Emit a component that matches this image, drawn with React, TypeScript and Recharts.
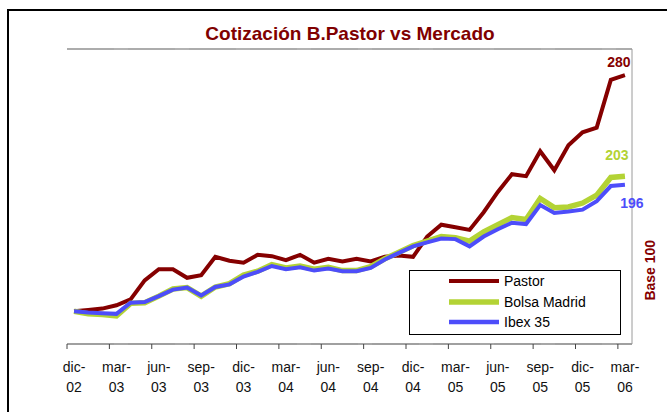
import React from "react";
import { LineChart, Line, XAxis, YAxis, CartesianGrid, ReferenceLine } from "recharts";

const months = [
  "dic-02","ene-03","feb-03","mar-03","abr-03","may-03","jun-03","jul-03","ago-03","sep-03","oct-03","nov-03",
  "dic-03","ene-04","feb-04","mar-04","abr-04","may-04","jun-04","jul-04","ago-04","sep-04","oct-04","nov-04",
  "dic-04","ene-05","feb-05","mar-05","abr-05","may-05","jun-05","jul-05","ago-05","sep-05","oct-05","nov-05",
  "dic-05","ene-06","feb-06","mar-06",
];

const pastor = [
  100, 101, 102, 104.5, 109, 123.5, 132, 132, 125.5, 127.5, 141.5, 138.5,
  137, 143, 142, 139, 143, 137, 140, 138, 140, 138, 141.5, 142.5,
  141.5, 157, 166, 164, 162, 175.5, 191, 204.5, 203, 222, 207.5, 226.5,
  236.5, 240, 276.5, 280,
];

const bolsa = [
  100, 98, 97.5, 96.5, 106, 106.5, 111.5, 117, 118, 111.5, 118.5, 121,
  127.5, 130.5, 135.5, 133, 134.5, 132, 133.5, 131, 131, 134, 140, 145,
  150, 153.5, 157, 156, 153.5, 160.5, 166, 171.5, 170, 186, 179, 179.5,
  182.5, 188.5, 202, 203,
];

const ibex = [
  100, 99, 98.5, 98, 106.5, 107, 111.5, 116.5, 118, 112, 118.5, 120.5,
  126.5, 130, 134.5, 132, 133.5, 131, 132.5, 130.5, 130.5, 133, 139.5, 144.5,
  149.5, 152.5, 155.5, 155, 149.5, 157, 162.5, 167.5, 166.5, 181, 175, 176,
  177.5, 184, 195.5, 196.5,
];

const yTicks = [75, 100, 125, 150, 175, 200, 225, 250, 275, 300];
const endLabels = { pastor: "280", bolsa: "203", ibex: "196" };

const rows = months.map((m, i) => ({ month: m, pastor: pastor[i], bolsa: bolsa[i], ibex: ibex[i] }));

const W = 667;
const H = 412;
const ML = 67;
const MT = 49;
const RIGHT_AXIS_W = 35;
const XAXIS_H = 68;
const HALF_BAND = (W - ML - RIGHT_AXIS_W) / months.length / 2;

const RED = "#850000";
const GREEN = "#B3D335";
const BLUE = "#4D4DFA";
const FONT = "'Liberation Sans', Arial, sans-serif";

const XTick = (props: any) => {
  const { x, y, payload } = props;
  const parts = String(payload.value).split("-");
  return (
    <g>
      <line x1={x - HALF_BAND} x2={x - HALF_BAND} y1={y} y2={y + 5} stroke="#444" strokeWidth={1} />
      <text x={x} y={y + 28} textAnchor="middle" fontSize={14} fill="#111" fontFamily={FONT}>{parts[0] + "-"}</text>
      <text x={x} y={y + 48} textAnchor="middle" fontSize={14} fill="#111" fontFamily={FONT}>{parts[1]}</text>
    </g>
  );
};

const makeEndLabel = (text: string, color: string, dx: number, dy: number) => (p: any) => {
  if (p.index !== months.length - 1) return null;
  return (
    <text x={p.x + dx} y={p.y + dy} textAnchor="middle" fontSize={14} fontWeight="bold" fill={color} fontFamily={FONT}>
      {text}
    </text>
  );
};

const BaseLabel = (p: any) => {
  const vb = p.viewBox || {};
  const cx = vb.x + 18;
  const cy = vb.y + vb.height * 0.75;
  return (
    <text x={cx} y={cy} transform={`rotate(-90 ${cx} ${cy})`} textAnchor="middle" dominantBaseline="central"
      fontSize={14} fontWeight="bold" fill={RED} fontFamily={FONT}>
      Base 100
    </text>
  );
};

const legendItems = [
  { name: "Pastor", color: RED, width: 4 },
  { name: "Bolsa Madrid", color: GREEN, width: 5.5 },
  { name: "Ibex 35", color: BLUE, width: 4.5 },
];

export default function App() {
  return (
    <div style={{ position: "absolute", left: 0, top: 0, width: W, height: H, overflow: "hidden", background: "#fff", fontFamily: FONT }}>
      <div style={{ position: "absolute", left: 7, top: 9, width: 700, height: 450, borderLeft: "2px solid #000", borderTop: "2px solid #000" }} />
      <div style={{ position: "absolute", left: 0, top: 0 }}>
        <LineChart width={W} height={H} data={rows} margin={{ top: MT, right: 0, bottom: 0, left: ML }}>
          <CartesianGrid vertical={false} stroke="#c4c4c4" strokeDasharray="47 14" />
          <XAxis dataKey="month" scale="band" interval={2} height={XAXIS_H} tickSize={0} tickMargin={0} tickLine={false}
            axisLine={{ stroke: "#8a8a8a", strokeWidth: 1.5 }} tick={<XTick />} />
          <YAxis domain={[75, 300]} ticks={yTicks} width={0} tick={false} tickLine={false}
            axisLine={{ stroke: "#8a8a8a", strokeWidth: 1.5 }} allowDataOverflow />
          <YAxis yAxisId="r" orientation="right" domain={[75, 300]} width={RIGHT_AXIS_W} tick={false} tickLine={false}
            axisLine={{ stroke: "#9a9a9a", strokeWidth: 1 }} label={<BaseLabel />} />
          <ReferenceLine y={300} stroke="#9a9a9a" strokeWidth={1.5} />
          <Line dataKey="pastor" stroke={RED} strokeWidth={4} dot={false} isAnimationActive={false}
            label={makeEndLabel(endLabels.pastor, RED, -6, -8)} />
          <Line dataKey="bolsa" stroke={GREEN} strokeWidth={5.5} dot={false} isAnimationActive={false}
            label={makeEndLabel(endLabels.bolsa, GREEN, -8, -16)} />
          <Line dataKey="ibex" stroke={BLUE} strokeWidth={4} dot={false} isAnimationActive={false}
            label={makeEndLabel(endLabels.ibex, BLUE, 7, 23)} />
        </LineChart>
      </div>
      <div style={{ position: "absolute", left: 0, top: 23, width: 700, textAlign: "center", fontSize: 19, fontWeight: "bold", color: "#800000", lineHeight: "22px" }}>
        Cotización B.Pastor vs Mercado
      </div>
      <div style={{ position: "absolute", left: 409, top: 270, width: 210, height: 63, border: "1px solid #000", background: "#fff" }}>
        {legendItems.map((it, i) => (
          <div key={it.name} style={{ position: "absolute", left: 38, top: 1 + i * 20.5, height: 18, display: "flex", alignItems: "center" }}>
            <svg width={52} height={10} style={{ display: "block" }}>
              <line x1={1} x2={51} y1={5} y2={5} stroke={it.color} strokeWidth={it.width} />
            </svg>
            <span style={{ marginLeft: 4, fontSize: 14, color: "#000", whiteSpace: "nowrap" }}>{it.name}</span>
          </div>
        ))}
      </div>
    </div>
  );
}
